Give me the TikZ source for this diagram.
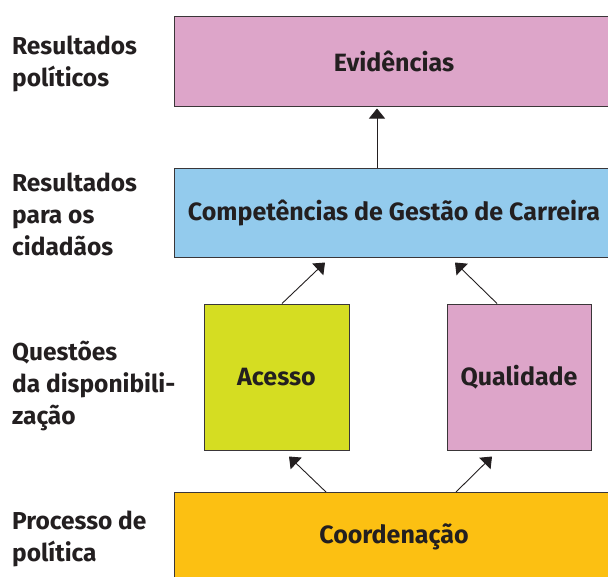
\documentclass[tikz,border=0pt]{standalone}
\usepackage{fontspec}
\setmainfont{Fira Sans}
\usetikzlibrary{arrows.meta}
\definecolor{rosa}{HTML}{DDA5C9}
\definecolor{azul}{HTML}{93CBED}
\definecolor{verde}{HTML}{D5DD22}
\definecolor{laranja}{HTML}{FCC012}
\definecolor{texto}{HTML}{231F20}
\definecolor{borda}{HTML}{3A3638}
\begin{document}
\begin{tikzpicture}[x=1pt, y=-1pt, font=\bfseries, text=texto,
    caixa/.style={draw=borda, line width=1pt, inner sep=0pt, font=\fontsize{25}{30}\selectfont\bfseries},
    rotulo/.style={anchor=west, align=left, inner sep=0pt, font=\fontsize{24.5}{32}\selectfont\bfseries},
    seta/.style={draw=texto, line width=0.9pt, -{Triangle[width=16pt, length=10pt]}}]
    \useasboundingbox (0, 0) rectangle (608, 576);

    % caixas
    \node[caixa, fill=rosa, minimum width=440pt, minimum height=90pt] (Evid) at (394, 61) {Evidências};
    \node[caixa, fill=azul, minimum width=440pt, minimum height=89pt] (Comp) at (394, 212.5) {Competências de Gestão de Carreira};
    \node[caixa, fill=verde, minimum width=145pt, minimum height=146pt] (Acesso) at (276.5, 377) {Acesso};
    \node[caixa, fill=rosa, minimum width=144pt, minimum height=146pt] (Qual) at (519, 377) {Qualidade};
    \node[caixa, fill=laranja, minimum width=440pt, minimum height=89pt] (Coord) at (394, 537) {Coordenação};

    % setas
    \draw[seta] ([xshift=-17pt]Comp.north) -- ([xshift=-17pt, yshift=-2pt]Evid.south);
    \draw[seta] ([xshift=5.5pt]Acesso.north) -- ([xshift=-69pt, yshift=-5pt]Comp.south);
    \draw[seta] ([xshift=-22pt]Qual.north) -- ([xshift=61pt, yshift=-5pt]Comp.south);
    \draw[seta] ([xshift=-68pt]Coord.north) -- ([xshift=12.5pt, yshift=-6pt]Acesso.south);
    \draw[seta] ([xshift=62pt]Coord.north) -- ([xshift=-27pt, yshift=-6pt]Qual.south);

    % rotulos
    \node[rotulo] (RPol) at (12, 63.5) {Resultados\\políticos};
    \node[rotulo] (RCid) at (12, 214) {Resultados\\para os\\cidadãos};
    \node[rotulo] (QDisp) at (12, 386) {Questões\\da disponibili-\\zação};
    \node[rotulo] (PPol) at (12, 539) {Processo de\\política};
\end{tikzpicture}
\end{document}
